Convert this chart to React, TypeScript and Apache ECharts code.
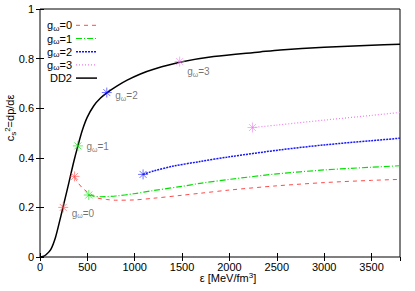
import React, { useEffect, useRef } from 'react';
import * as echarts from 'echarts';

// DD2 speed of sound squared vs energy density
const dd2Curve: [number, number][] = [
  [0, 0], [30, 0.002], [60, 0.008], [113, 0.03], [164, 0.08], [217, 0.16], [252, 0.215],
  [305, 0.3], [357, 0.385], [400, 0.448], [446, 0.51], [498, 0.563], [568, 0.61],
  [639, 0.641], [709, 0.663], [815, 0.69], [920, 0.713], [1060, 0.738], [1200, 0.757],
  [1474, 0.785], [1833, 0.808], [2323, 0.827], [2536, 0.835], [3000, 0.846],
  [3500, 0.854], [3800, 0.858],
];
const gw0Curve: [number, number][] = [
  [365, 0.322], [400, 0.3], [446, 0.279], [500, 0.262], [560, 0.247], [604, 0.238],
  [700, 0.232], [800, 0.229], [990, 0.23], [1200, 0.237], [1500, 0.249], [1690, 0.257],
  [2000, 0.27], [2500, 0.287], [3000, 0.3], [3500, 0.309], [3800, 0.313],
];
const gw1Curve: [number, number][] = [
  [515, 0.25], [560, 0.246], [638, 0.243], [800, 0.246], [990, 0.255], [1200, 0.268],
  [1500, 0.285], [1690, 0.297], [2000, 0.313], [2500, 0.335], [3000, 0.351],
  [3500, 0.362], [3800, 0.368],
];
const gw2Curve: [number, number][] = [
  [1088, 0.333], [1200, 0.347], [1400, 0.366], [1690, 0.385], [2000, 0.404],
  [2537, 0.432], [3000, 0.452], [3500, 0.469], [3800, 0.479],
];
const gw3Curve: [number, number][] = [
  [2243, 0.522], [2500, 0.532], [3000, 0.552], [3500, 0.571], [3800, 0.583],
];
// transition markers: first on DD2 (labelled), second at start of branch
const gw0Marks: [number, number][] = [[245, 0.2], [365, 0.325]];
const gw1Marks: [number, number][] = [[400, 0.448], [515, 0.25]];
const gw2Marks: [number, number][] = [[705, 0.663], [1088, 0.333]];
const gw3Marks: [number, number][] = [[1474, 0.788], [2243, 0.522]];

const xTicks = { min: 0, max: 3800, interval: 500 };
const yTicks = { min: 0, max: 1, interval: 0.2 };
const gwValues = ['0', '1', '2', '3'];

const FONT = 'Liberation Sans, Arial, Helvetica, sans-serif';
const colors = ['#ff4a4a', '#00e000', '#1414ff', '#f07cf0'];
const dashes: number[][] = [[4, 4], [6, 2, 1, 2], [2, 1], [1, 2]];
const widths = [1, 1.2, 1.5, 1.2];
const STAR = 'path://M5 0L5 10M0 5L10 5M1.5 1.5L8.5 8.5M8.5 1.5L1.5 8.5';

const App: React.FC = () => {
  const ref = useRef<HTMLDivElement>(null);
  useEffect(() => {
    if (!ref.current) return;
    document.body.style.margin = '0';
    const chart = echarts.init(ref.current, undefined, { renderer: 'svg' });
    const curves = [gw0Curve, gw1Curve, gw2Curve, gw3Curve];
    const marks = [gw0Marks, gw1Marks, gw2Marks, gw3Marks];
    const labelOffsets: [number, number][] = [[0, 6], [0, 1], [0, 3], [-1, 10]];

    const series: any[] = [];
    curves.forEach((c, i) => {
      series.push({
        type: 'line', name: 'gw' + gwValues[i], data: c, showSymbol: false, smooth: 0.3,
        lineStyle: { color: colors[i], width: widths[i], type: dashes[i] }, z: 3,
      });
    });
    series.push({
      type: 'line', name: 'DD2', data: dd2Curve, showSymbol: false, smooth: 0.3,
      lineStyle: { color: '#000', width: 1.5 }, z: 4,
    });
    marks.forEach((m, i) => {
      series.push({
        type: 'scatter', data: m.map((p, j) => ({
          value: p,
          label: {
            show: j === 0,
            position: 'right', distance: 1, offset: labelOffsets[i],
            formatter: '{g|g}{w|ω}{g|=' + gwValues[i] + '}',
            rich: {
              g: { fontSize: 10, fontFamily: FONT, color: '#111' },
              w: { fontSize: 7, fontFamily: FONT, color: '#111', padding: [5, 0, 0, 0] },
            },
          },
        })),
        symbol: STAR, symbolSize: 10,
        itemStyle: { color: 'none', borderColor: colors[i], borderWidth: 1, opacity: 0.6 },
        z: 5,
      });
    });

    const legendTop = 25.3;
    const legendStep = 13.2;
    const legendGraphics: any[] = [];
    const legendLabels = [...gwValues.map((v) => '{g|g}{w|ω}{g|=' + v + '}'), '{g|DD2}'];
    const legendColors = [...colors, '#000'];
    const legendDash = [...dashes, null];
    const legendWidths = [...widths, 1.5];
    legendLabels.forEach((t, i) => {
      const y = legendTop + i * legendStep;
      legendGraphics.push({
        type: 'text', x: 72, y,
        style: {
          text: t, align: 'right', verticalAlign: 'middle',
          rich: {
            g: { fontSize: 11, fontFamily: FONT, fill: '#000' },
            w: { fontSize: 8, fontFamily: FONT, fill: '#000', padding: [6, 0, 0, 0] },
          },
        },
      });
      legendGraphics.push({
        type: 'line', shape: { x1: 76, y1: y, x2: 97, y2: y },
        style: { stroke: legendColors[i], lineWidth: legendWidths[i], lineDash: legendDash[i] || undefined },
      });
    });

    const xBase = {
      type: 'value', ...xTicks,
      axisLine: { show: false }, splitLine: { show: false },
      axisTick: { inside: true, length: 4, lineStyle: { color: '#000' } },
    };
    const yBase = {
      type: 'value', ...yTicks,
      axisLine: { show: false }, splitLine: { show: false },
      axisTick: { inside: true, length: 4, lineStyle: { color: '#000' } },
    };

    chart.setOption({
      animation: false,
      backgroundColor: '#fff',
      grid: { left: 40, right: 15, top: 9, bottom: 34, show: true, borderColor: '#000', borderWidth: 1 },
      xAxis: [
        { ...xBase, position: 'bottom',
          axisLabel: { fontSize: 11, fontFamily: FONT, color: '#000', margin: 4, showMaxLabel: false,
            formatter: (v: number) => String(v) } },
        { ...xBase, position: 'top', axisLabel: { show: false } },
      ],
      yAxis: [
        { ...yBase, position: 'left',
          axisLabel: { fontSize: 11, fontFamily: FONT, color: '#000', margin: 6,
            formatter: (v: number) => String(v) } },
        { ...yBase, position: 'right', axisLabel: { show: false } },
      ],
      series,
      graphic: [
        ...legendGraphics,
        {
          type: 'text', x: 228, y: 271,
          style: {
            text: '{a|ε [MeV/fm}{s|3}{a|]}', align: 'center', verticalAlign: 'top',
            rich: {
              a: { fontSize: 11, fontFamily: FONT, fill: '#000', lineHeight: 12 },
              s: { fontSize: 8, fontFamily: FONT, fill: '#000', padding: [0, 0, 6, 0] },
            },
          },
        },
        {
          type: 'text', x: 10, y: 118, rotation: Math.PI / 2,
          style: {
            text: '{a|c}{s|s}{p|2}{a|=dp/dε}', align: 'center', verticalAlign: 'middle',
            rich: {
              a: { fontSize: 11, fontFamily: FONT, fill: '#000' },
              s: { fontSize: 8, fontFamily: FONT, fill: '#000', padding: [6, 0, 0, 0] },
              p: { fontSize: 8, fontFamily: FONT, fill: '#000', padding: [0, 0, 6, 0] },
            },
          },
        },
      ],
    });
    return () => chart.dispose();
  }, []);
  return <div ref={ref} style={{ width: 415, height: 291 }} />;
};

export default App;
